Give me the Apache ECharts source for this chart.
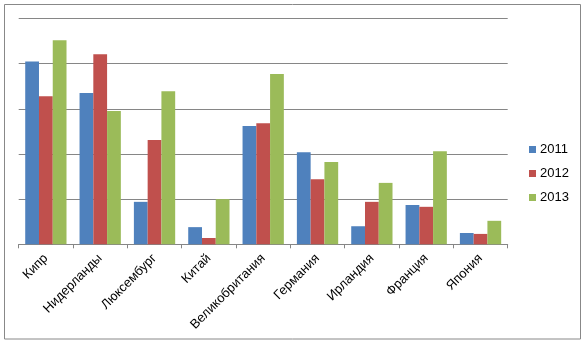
<!DOCTYPE html>
<html><head><meta charset="utf-8">
<script src="https://cdn.jsdelivr.net/npm/echarts@6/dist/echarts.min.js"></script>
<style>html,body{margin:0;padding:0;background:#fff}#c{width:585px;height:346px}</style>
</head><body><div id="c"></div>
<script>
const categories = ["Кипр","Нидерланды","Люксембург","Китай","Великобритания","Германия","Ирландия","Франция","Япония"];
const seriesNames = ["2011","2012","2013"];
const v2011 = [4.05, 3.35, 0.94, 0.38, 2.62, 2.04, 0.40, 0.87, 0.25];
const v2012 = [3.28, 4.21, 2.31, 0.14, 2.68, 1.44, 0.94, 0.83, 0.23];
const v2013 = [4.52, 2.95, 3.39, 1.00, 3.77, 1.82, 1.36, 2.06, 0.52];
const colors = ["#4F81BD","#C0504D","#9BBB59"];
const values = [v2011, v2012, v2013];

const chart = echarts.init(document.getElementById('c'), null, {renderer:'canvas'});
chart.setOption({
  animation:false,
  backgroundColor:'#fff',
  graphic:[{type:'rect', shape:{x:4.5,y:4.5,width:576,height:334.5}, style:{fill:'none', stroke:'#888888', lineWidth:1}, silent:true}],
  grid:{left:18.7, right:77.3, top:18.5, bottom:101.7, containLabel:false},
  legend:{
    orient:'vertical', left:529, top:143, padding:0, itemWidth:7, itemHeight:7, itemGap:11,
    icon:'rect',
    textStyle:{fontFamily:'Liberation Sans', fontSize:13, color:'#000', padding:[0,0,0,-1]},
    data:seriesNames
  },
  xAxis:{
    type:'category', data:categories,
    axisLine:{lineStyle:{color:'#868686', width:1}},
    axisTick:{show:true, alignWithLabel:false, length:4, lineStyle:{color:'#868686'}},
    axisLabel:{rotate:45, interval:0, margin:12, fontFamily:'Liberation Sans', fontSize:13, color:'#000'}
  },
  yAxis:{
    type:'value', min:0, max:5, interval:1,
    axisLine:{show:false}, axisTick:{show:false}, axisLabel:{show:false},
    splitLine:{lineStyle:{color:'#868686', width:1}}
  },
  series: seriesNames.map((n,i)=>({
    name:n, type:'bar', data:values[i], barGap:'0%', barCategoryGap:'24%',
    itemStyle:{color:colors[i]}
  }))
});
</script></body></html>
